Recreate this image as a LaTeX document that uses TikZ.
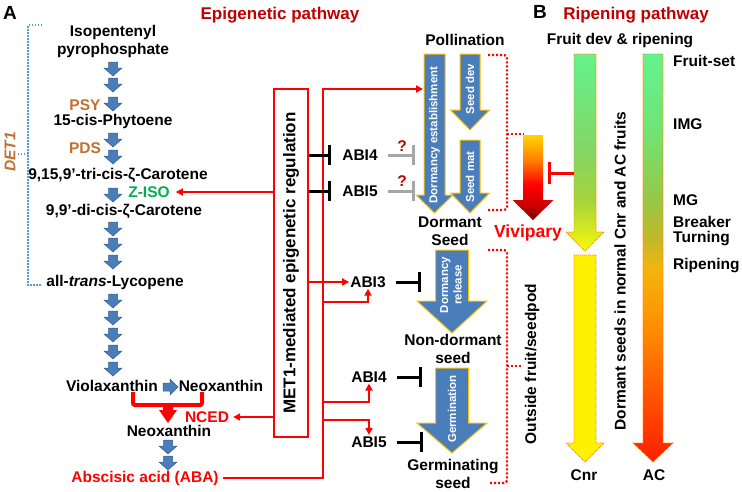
\documentclass[tikz,border=0pt]{standalone}
\usepackage{fontspec}
\setmainfont{Liberation Sans}
\usetikzlibrary{calc, positioning, arrows.meta}

\definecolor{pathblue}{RGB}{74,126,187}
\definecolor{pathblueline}{RGB}{56,93,138}
\definecolor{gold}{RGB}{255,192,0}
\definecolor{titlered}{RGB}{192,0,0}
\definecolor{enzbrown}{RGB}{192,112,48}
\definecolor{isogreen}{RGB}{0,176,80}
\definecolor{detblue}{RGB}{91,155,213}
\definecolor{inhgray}{RGB}{166,166,166}
\definecolor{freshgreen}{RGB}{100,242,142}
\definecolor{acgreenA}{RGB}{110,230,120}
\definecolor{acgreenB}{RGB}{150,200,70}
\definecolor{acolive}{RGB}{195,185,40}
\definecolor{acamber}{RGB}{245,180,10}
\definecolor{acorangeA}{RGB}{255,140,0}
\definecolor{acorangeB}{RGB}{255,80,0}
\definecolor{acred}{RGB}{255,30,0}
\definecolor{cnrgreen}{RGB}{130,215,100}
\definecolor{cnrlime}{RGB}{165,212,60}
\definecolor{cnryellow}{RGB}{230,240,20}
\definecolor{vivyellow}{RGB}{255,215,0}
\definecolor{vivdark}{RGB}{120,0,0}
\definecolor{vivred}{RGB}{205,0,0}

%shadings of the coloured arrows (path box = 25bp..75bp)
\pgfdeclareverticalshading{acshade}{100bp}{color(0bp)=(acred); color(25bp)=(acred);
  color(32.6bp)=(acorangeB); color(41.2bp)=(acorangeA); color(48.5bp)=(acamber);
  color(52.2bp)=(acolive); color(57.1bp)=(acgreenB); color(66.4bp)=(acgreenA);
  color(75bp)=(freshgreen); color(100bp)=(freshgreen)}
\pgfdeclareverticalshading{cnrshade}{100bp}{color(0bp)=(yellow); color(25bp)=(yellow);
  color(27.8bp)=(cnryellow); color(38bp)=(cnrlime); color(50.6bp)=(cnrgreen);
  color(75bp)=(freshgreen); color(100bp)=(freshgreen)}
\pgfdeclareverticalshading{vivshade}{100bp}{color(0bp)=(vivdark); color(25bp)=(vivdark);
  color(33.8bp)=(vivred); color(45.6bp)=(red); color(60.3bp)=(orange);
  color(75bp)=(vivyellow); color(100bp)=(vivyellow)}

%block arrow pointing down: x, top, head top, tip, body half width, head half width
\newcommand{\blockdown}[7][]{%
  \path[#1] ({#2-#6},#3) -- ({#2+#6},#3) -- ({#2+#6},#4) -- ({#2+#7},#4) -- (#2,#5)
    -- ({#2-#7},#4) -- ({#2-#6},#4) -- cycle;}
\newcommand{\stepdown}[2]{\blockdown[smallarrow]{#1}{#2}{#2+6}{#2+14}{4.5}{9}}

\tikzset{
  lbl/.style={font=\bfseries\fontsize{15.5}{18}\selectfont, inner sep=0pt, align=center},
  big/.style={font=\bfseries\fontsize{17}{19}\selectfont, inner sep=0pt},
  inarrow/.style={font=\bfseries\fontsize{11.5}{13.5}\selectfont, text=white, inner sep=0pt, align=center, rotate=90},
  enzyme/.style={lbl, text=enzbrown},
  smallarrow/.style={fill=pathblue, draw=pathblueline, line width=0.5pt},
  bigarrow/.style={fill=pathblue, draw=gold, line width=1pt},
  dotline/.style={draw=orange, dash pattern=on 1pt off 1pt, line width=0.8pt},
  redarr/.style={red, line width=1.8pt, -{Triangle[length=7pt,width=7pt]}},
  inhib/.style={line width=3pt, -{Bar[width=20pt,line width=3pt]}},
  bracket/.style={red, line width=2.2pt, dash pattern=on 2pt off 2pt}
}

\begin{document}
\begin{tikzpicture}[x=1pt, y=-1pt]
  \useasboundingbox (0,0) rectangle (742,491);

  %panel titles
  \node[font=\bfseries\fontsize{19}{21}\selectfont, inner sep=0pt] (pA) at (10,13) {A};
  \node[big, text=titlered] (epi) at (280,15) {Epigenetic pathway};
  \node[font=\bfseries\fontsize{19}{21}\selectfont, inner sep=0pt] (pB) at (540,12) {B};
  \node[big, text=titlered] (rip) at (636,15) {Ripening pathway};

  %carotenoid pathway
  \node[lbl] (ipp) at (113,41) {Isopentenyl\\pyrophosphate};
  \stepdown{113}{62}
  \stepdown{113}{78}
  \stepdown{113}{97}
  \node[enzyme] (psy) at (85,105) {PSY};
  \node[lbl] (phy) at (113,121) {15-cis-Phytoene};
  \stepdown{113}{133}
  \stepdown{113}{150}
  \node[enzyme] (pds) at (85,148) {PDS};
  \node[lbl] (tcc) at (118,175) {9,15,9’-tri-cis-ζ-Carotene};
  \stepdown{113}{188}
  \node[lbl, text=isogreen] (ziso) at (149,192) {Z-ISO};
  \node[lbl] (dcc) at (124,211) {9,9’-di-cis-ζ-Carotene};
  \stepdown{113}{222}
  \stepdown{113}{238}
  \stepdown{113}{255}
  \node[lbl] (lyc) at (115,282) {all-\textit{trans}-Lycopene};
  \foreach \yy in {294,311,328,345,362}
    \stepdown{113}{\yy};
  \node[lbl] (vio) at (112,386) {Violaxanthin};
  \node[lbl] (neoA) at (221,386) {Neoxanthin};
  \path[smallarrow] (163,383) -- (170,383) -- (170,379) -- (178,387) -- (170,395) -- (170,391) -- (163,391) -- cycle;
  \draw[red, line width=4pt, rounded corners=2pt] (133,392) -- (133,405) -- (202,405) -- (202,392);
  \blockdown[fill=red]{168}{403}{410}{423}{5}{9}
  \node[lbl, text=red] (nced) at (207,417) {NCED};
  \node[lbl] (neoB) at (169,431) {Neoxanthin};
  \stepdown{168}{440}
  \stepdown{168}{456}
  \node[lbl, text=red] (aba) at (145,478) {Abscisic acid (ABA)};

  %DET1
  \draw[detblue, line width=1.5pt, dash pattern=on 1.5pt off 1.5pt] (42,25) -- (28,25) -- (28,285) -- (42,285);
  \draw[detblue, line width=1.5pt, dash pattern=on 1.5pt off 1.5pt] (28,154) -- (17,154);
  \node[lbl, text=enzbrown, rotate=90] (det) at (10,152) {\itshape DET1};

  %MET1 box and red connectors
  \node[draw=red, line width=1.8pt, minimum width=34pt, minimum height=348pt, inner sep=0pt] (met) at (291,263)
    {\rotatebox{90}{\bfseries\fontsize{17}{19}\selectfont MET1-mediated epigenetic regulation}};
  \coordinate (bus top) at (323,89);
  \coordinate (est in) at (423,89);
  \draw[redarr] (met.west |- ziso) -- ([xshift=6pt]ziso.east);
  \draw[redarr] (met.west |- nced) -- ([xshift=4pt]nced.east);
  \draw[redarr] ([xshift=4pt]aba.east) -| (bus top) -- (est in);

  %seed pathway
  \node[lbl] (poll) at (465,40) {Pollination};
  \blockdown[bigarrow]{434.5}{54}{195}{213}{10.5}{18.5}
  \blockdown[bigarrow]{470}{54}{110}{130}{10}{19.5}
  \blockdown[bigarrow]{470}{140}{193}{213}{10}{19.5}
  \node[inarrow] (est) at (434.5,135) {Dormancy establishment};
  \node[inarrow] (sdev) at (470,89) {Seed dev};
  \node[inarrow] (smat) at (470,177) {Seed mat};
  \node[lbl] (dorm) at (450,231) {Dormant\\Seed};

  \node[lbl] (abiFa) at (360,155) {ABI4};
  \node[lbl] (abiVa) at (360,191) {ABI5};
  \draw[inhib] (met.east |- abiFa) -- ([xshift=-11pt]abiFa.west);
  \draw[inhib] (met.east |- abiVa) -- ([xshift=-11pt]abiVa.west);
  \draw[inhib, inhgray] ([xshift=10pt]abiFa.east) -- ([xshift=37pt]abiFa.east);
  \draw[inhib, inhgray] ([xshift=10pt]abiVa.east) -- ([xshift=37pt]abiVa.east);
  \node[lbl, text=titlered] (qa) at (402,146) {?};
  \node[lbl, text=titlered] (qb) at (402,181) {?};

  \blockdown[bigarrow]{452}{250}{301}{333}{16.5}{35}
  \node[inarrow] (rel) at (451,285) {Dormancy\\release};
  \node[lbl] (nondorm) at (453,349) {Non-dormant\\seed};
  \blockdown[bigarrow]{452}{368}{423}{453}{16.5}{35}
  \node[inarrow] (germ) at (452,409) {Germination};
  \node[lbl] (germs) at (453,474) {Germinating\\seed};

  \node[lbl] (abiT) at (368,282) {ABI3};
  \node[lbl] (abiFb) at (369,377) {ABI4};
  \node[lbl] (abiVb) at (369,442) {ABI5};
  \coordinate (bT) at (323,302);
  \coordinate (bF) at (323,402);
  \coordinate (bV) at (323,420);
  \draw[redarr] (met.east |- abiT) -- ([xshift=-1pt]abiT.west);
  \draw[redarr] (bT) -| ([yshift=-1pt]abiT.south);
  \draw[redarr] (bF) -| ([yshift=-1pt]abiFb.south);
  \draw[redarr] (bV) -| ([yshift=1.5pt]abiVb.north);
  \draw[inhib] ([xshift=10pt]abiT.east) -- ([xshift=35pt]abiT.east);
  \draw[inhib] ([xshift=10pt]abiFb.east) -- ([xshift=35pt]abiFb.east);
  \draw[inhib] ([xshift=10pt]abiVb.east) -- ([xshift=36pt]abiVb.east);

  %brackets and vivipary
  \draw[bracket, rounded corners=3pt] (488,55) -- (507,55) -- (507,210) -- (488,210);
  \draw[bracket] (507,134) -- (524,134);
  \draw[bracket, rounded corners=3pt] (488,250) -- (507,250) -- (507,483) -- (490,483);
  \draw[bracket] (507,366) -- (523,366);
  \node[lbl, rotate=90] (outside) at (532,364) {Outside fruit/seedpod};
  \blockdown[shade, shading=vivshade]{533}{135}{200}{220}{10}{20.5}
  \node[font=\bfseries\fontsize{17.5}{19}\selectfont, inner sep=0pt, text=red] (vivi) at (528,233) {Vivipary};

  %ripening pathway
  \node[lbl] (fdr) at (620,41) {Fruit dev \& ripening};
  \blockdown[shade, shading=cnrshade, dotline]{585}{54}{232}{251}{11}{19}
  \blockdown[fill=yellow, dotline]{585}{255}{443}{462}{11}{19}
  \blockdown[shade, shading=acshade, dotline]{653}{54}{443}{462}{10}{20}
  \coordinate (cnr side) at (574,173);
  \draw[red, line width=3pt, -{Bar[width=22pt,line width=3pt]}] (cnr side) -- (548,173);
  \node[lbl] (cnr) at (584,475) {Cnr};
  \node[lbl] (ac) at (654,475) {AC};
  \node[lbl, rotate=90] (dsn) at (620,271) {Dormant seeds in normal Cnr and AC fruits};
  \node[lbl, anchor=west] (fset) at (673,61) {Fruit-set};
  \node[lbl, anchor=west] (img) at (673,124) {IMG};
  \node[lbl, anchor=west] (mg) at (673,200) {MG};
  \node[lbl, anchor=west] (brk) at (673,222) {Breaker};
  \node[lbl, anchor=west] (trn) at (673,239) {Turning};
  \node[lbl, anchor=west] (ripe) at (673,266) {Ripening};
\end{tikzpicture}
\end{document}
